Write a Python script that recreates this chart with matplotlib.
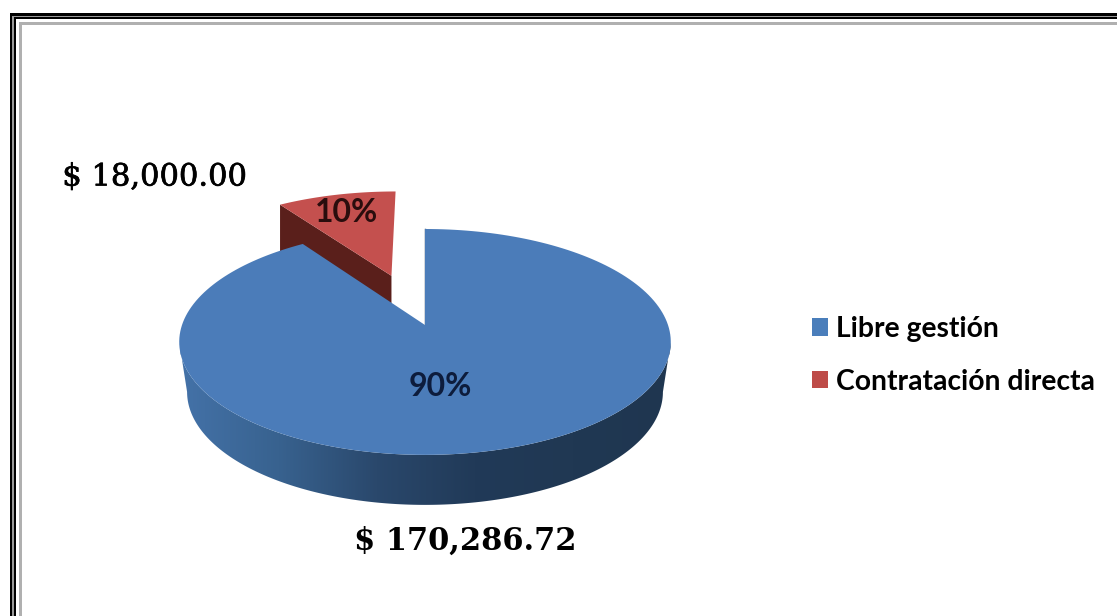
import numpy as np
import matplotlib
matplotlib.use('Agg')
import matplotlib.pyplot as plt
import matplotlib.patheffects as pe
from matplotlib.patches import Polygon, Patch
from matplotlib.colors import LinearSegmentedColormap

categories = ['Libre gestión', 'Contratación directa']
amounts = [170286.72, 18000.00]

W, H = 1117, 616
fig = plt.figure(figsize=(W / 100, H / 100), dpi=100)
ax = fig.add_axes([0, 0, 1, 1])
ax.set_xlim(0, W)
ax.set_ylim(H, 0)
ax.axis('off')

# pie is a flat disc seen in perspective, (u, v) on the disc -> pixels
X0, Y0, A, B, C = 425, 325, 110.4, 0.15, 243
DEPTH = 50
EXPLODE = 0.5
BOTTOM_SCALE = 0.968


def project(u, v):
    w = 1 + B * v
    return X0 + C * u / w, Y0 - A * v / w


def wedge_pts(t1, t2, off=(0, 0)):
    # angles clockwise from the top, degrees
    t = np.radians(np.linspace(t1, t2, 200))
    u = np.r_[off[0], off[0] + np.sin(t)]
    v = np.r_[off[1], off[1] + np.cos(t)]
    return np.column_stack(project(u, v))


frac = np.array(amounts) / sum(amounts)
blue_end = 360 * frac[0]

# red slice, pulled out
mid = np.radians((blue_end + 360) / 2)
off = (EXPLODE * np.sin(mid), EXPLODE * np.cos(mid))
red = wedge_pts(blue_end, 360, off)
apex = red[0]
left = red[1]
side = np.array([apex, left, left + [0, DEPTH], apex + [0, DEPTH]])
ax.add_patch(Polygon(side, closed=True, fc='#5a1f1b', ec='none', zorder=1))
ax.add_patch(Polygon(red, closed=True, fc='#c4504e', ec='none', zorder=2))

# blue slice rim with gradient, lower edge a bit narrower
t_ext = np.degrees(np.arccos(-B))
t = np.radians(np.linspace(t_ext, 360 - t_ext, 300))
rx, ry = project(np.sin(t), np.cos(t))
rim_top = np.column_stack([rx, ry])
rim_bot = np.column_stack([X0 + (rx - X0) * BOTTOM_SCALE, ry + DEPTH])
rim = np.vstack([rim_top, rim_bot[::-1]])
clip = Polygon(rim, closed=True, fc='none', ec='none', transform=ax.transData)
ax.add_patch(clip)
cmap = LinearSegmentedColormap.from_list('rim', ['#1f3650', '#203853', '#213a58', '#2a486c', '#38628f', '#4472a8'])
grad = np.linspace(1, 0, 256).reshape(1, -1)
im = ax.imshow(grad, cmap=cmap, extent=[180, 672, 510, 340], aspect='auto', zorder=3)
im.set_clip_path(clip)
ax.set_xlim(0, W)
ax.set_ylim(H, 0)

# blue slice top
blue = wedge_pts(0, blue_end)
ax.add_patch(Polygon(blue, closed=True, fc='#4b7cb9', ec='none', zorder=4))
ax.plot([X0, X0], [229, 325], color='#1d3553', lw=1, zorder=3.5)

# labels
ax.text(440.5, 387, f'{frac[0]:.0%}', family='Lato', weight='bold', fontsize=23,
        color='#0d1c3c', ha='center', va='center', zorder=5)
ax.text(347, 213, f'{frac[1]:.0%}', family='Lato', weight='bold', fontsize=23,
        color='#2a0d0d', ha='center', va='center', zorder=5)
ax.text(154.5, 177, f'$ {amounts[1]:,.2f}', family='DejaVu Serif', fontsize=22,
        color='black', ha='center', va='center',
        path_effects=[pe.withStroke(linewidth=0.5, foreground='black')])
ax.text(465, 541, f'$ {amounts[0]:,.2f}', family='DejaVu Serif', weight='bold', fontsize=22,
        color='black', ha='center', va='center')

# legend
handles = [Patch(fc='#4a7ebb', ec='none'), Patch(fc='#be4b48', ec='none')]
leg = ax.legend(handles, categories, loc='upper left', bbox_to_anchor=(812 / W, 1 - 316 / H),
                frameon=False, prop={'family': 'Lato', 'weight': 'bold', 'size': 20.3},
                handlelength=0.56, handleheight=0.56, handletextpad=0.28, labelspacing=0.95,
                borderpad=0, borderaxespad=0)

# frame, only top and left reach the picture
frame_x = [10.5, 13, 15, 19.5]
frame_y = [14.3, 16.5, 18.3, 22.5]
frame_w = [3, 2, 2, 3]
frame_c = ['black', '#999999', 'black', '#b0b0b0']
for x, y, w, col in zip(frame_x, frame_y, frame_w, frame_c):
    ax.plot([x, x, W], [H, y, y], color=col, lw=w * 72 / 100, solid_joinstyle='miter',
            solid_capstyle='butt', zorder=6)

fig.savefig('out.png', dpi=100)
